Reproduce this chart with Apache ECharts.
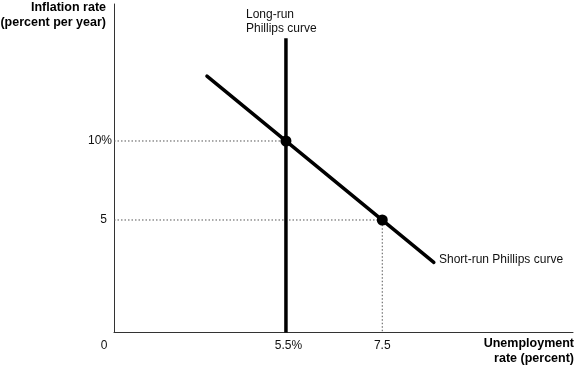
<!DOCTYPE html>
<html>
<head>
<meta charset="utf-8">
<script src="https://cdn.jsdelivr.net/npm/echarts@6/dist/echarts.min.js"></script>
<style>html,body{margin:0;padding:0;background:#fff}#c{width:575px;height:369px}</style>
</head>
<body>
<div id="c"></div>
<script>
// Axis extents (data units)
const xMin = 1.93, xMax = 11.46;
const yMin = -2.12, yMax = 18.67;
// Short-run Phillips curve endpoints
const shortRunU = [3.86, 8.57];
const shortRunInf = [14.1, 2.32];
// Long-run Phillips curve
const longRunU = 5.5;
const longRunInf = [yMin, 16.5];
// Marked points
const pointsU = [5.5, 7.5];
const pointsInf = [10, 5];
// Tick labels
const xTickValues = [xMin, 5.5, 7.5];
const xTickLabels = ['0', '5.5%', '7.5'];
const yTickValues = [5, 10];
const yTickLabels = ['5', '10%'];

const font = 'Liberation Sans, Arial, Helvetica, sans-serif';
const chart = echarts.init(document.getElementById('c'), null, {renderer: 'canvas'});

const dotted = {color: '#555', width: 1, type: [1.5, 2]};

chart.setOption({
  animation: false,
  backgroundColor: '#fff',
  grid: {left: 114, right: 2, top: 4, bottom: 36.5},
  xAxis: {
    type: 'value', min: xMin, max: xMax,
    axisLine: {show: true, onZero: false, lineStyle: {color: '#333', width: 1}},
    axisTick: {show: false},
    splitLine: {show: false},
    axisLabel: {
      customValues: xTickValues,
      margin: 7,
      fontFamily: font, fontSize: 12, color: '#111',
      formatter: function (v) {
        const i = xTickValues.findIndex(t => Math.abs(t - v) < 1e-6);
        const s = xTickLabels[i];
        if (i === 0) return '{z|' + s + '}';
        if (i === 1) return '{p|' + s + '}';
        return s;
      },
      rich: {
        z: {fontFamily: font, fontSize: 12, color: '#111', padding: [0, 20, 0, 0]},
        p: {fontFamily: font, fontSize: 12, color: '#111', padding: [0, 0, 0, 5]}
      }
    }
  },
  yAxis: {
    type: 'value', min: yMin, max: yMax,
    axisLine: {show: true, onZero: false, lineStyle: {color: '#333', width: 1}},
    axisTick: {show: false},
    splitLine: {show: false},
    axisLabel: {
      customValues: yTickValues,
      margin: 2,
      fontFamily: font, fontSize: 12, color: '#111',
      formatter: function (v) {
        const i = yTickValues.findIndex(t => Math.abs(t - v) < 1e-6);
        const s = yTickLabels[i];
        if (s === '5') return '{f|' + s + '}';
        return s;
      },
      rich: {f: {fontFamily: font, fontSize: 12, color: '#111', padding: [0, 5, 0, 0]}}
    }
  },
  series: [
    {
      type: 'line', silent: true, symbol: 'none',
      data: [[xMin, pointsInf[0]], [pointsU[0], pointsInf[0]]],
      lineStyle: dotted, z: 1
    },
    {
      type: 'line', silent: true, symbol: 'none',
      data: [[xMin, pointsInf[1]], [pointsU[1], pointsInf[1]], [pointsU[1], yMin]],
      lineStyle: dotted, z: 1
    },
    {
      type: 'line', silent: true, symbol: 'none',
      data: [[shortRunU[0], shortRunInf[0]], [shortRunU[1], shortRunInf[1]]],
      lineStyle: {color: '#000', width: 3.5, cap: 'round'}, z: 3
    },
    {
      type: 'line', silent: true, symbol: 'none',
      data: [[longRunU, longRunInf[0]], [longRunU, longRunInf[1]]],
      lineStyle: {color: '#000', width: 3.5}, z: 3
    },
    {
      type: 'scatter', silent: true, symbol: 'circle', symbolSize: 11,
      data: pointsU.map((u, i) => [u, pointsInf[i]]),
      itemStyle: {color: '#000', opacity: 1}, z: 4
    }
  ],
  graphic: [
    {type: 'text', x: 0, y: 0, z: 10, style: {
      text: 'Inflation rate\n(percent per year)', x: 106, y: 0, align: 'right',
      font: 'bold 12.5px ' + font, fill: '#000', lineHeight: 15
    }},
    {type: 'text', x: 0, y: 0, z: 10, style: {
      text: 'Unemployment\nrate (percent)', x: 574, y: 336, align: 'right',
      font: 'bold 12.5px ' + font, fill: '#000', lineHeight: 15
    }},
    {type: 'text', x: 0, y: 0, z: 10, style: {
      text: 'Long-run\nPhillips curve', x: 246, y: 8, align: 'left',
      font: '12px ' + font, fill: '#111', lineHeight: 14
    }},
    {type: 'text', x: 0, y: 0, z: 10, style: {
      text: 'Short-run Phillips curve', x: 439, y: 254, align: 'left',
      font: '12px ' + font, fill: '#111'
    }}
  ]
});
</script>
</body>
</html>
